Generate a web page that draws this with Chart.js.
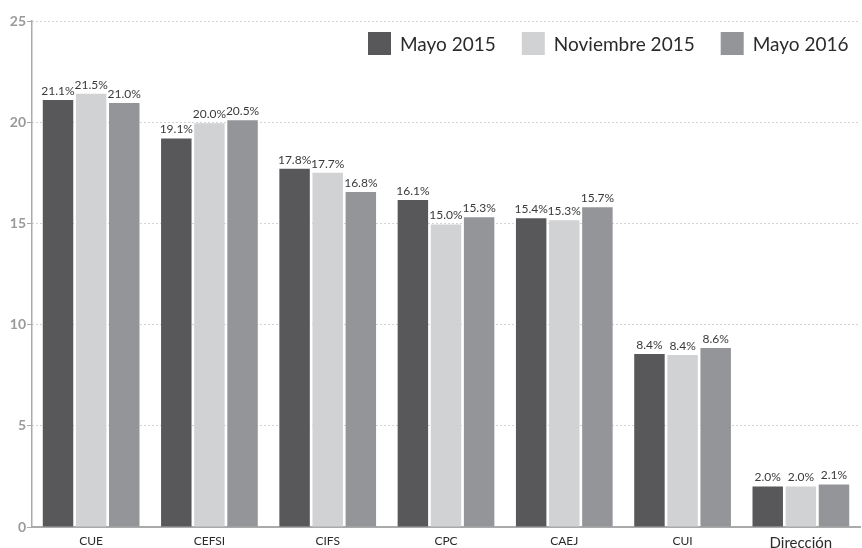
<!DOCTYPE html>
<html>
<head>
<meta charset="utf-8">
<script src="https://cdn.jsdelivr.net/npm/chart.js@4.4.0/dist/chart.umd.min.js"></script>
<style>
  html, body { margin: 0; padding: 0; background: #fff; }
  #wrap { width: 862px; height: 548px; }
</style>
</head>
<body>
<div id="wrap"><canvas id="myChart" width="862" height="548"></canvas></div>
<script>
// DATA ----------------------------------------------------------------------
var categories = ["CUE", "CEFSI", "CIFS", "CPC", "CAEJ", "CUI", "Dirección"];
var seriesNames = ["Mayo 2015", "Noviembre 2015", "Mayo 2016"];

// bar heights as drawn
var mayo2015 = [21.1, 19.2, 17.7, 16.15, 15.25, 8.55, 2.0];
var nov2015  = [21.4, 19.95, 17.5, 14.95, 15.15, 8.5, 2.0];
var mayo2016 = [20.95, 20.1, 16.55, 15.3, 15.8, 8.85, 2.1];

// printed labels
var mayo2015Labels = ["21.1%", "19.1%", "17.8%", "16.1%", "15.4%", "8.4%", "2.0%"];
var nov2015Labels  = ["21.5%", "20.0%", "17.7%", "15.0%", "15.3%", "8.4%", "2.0%"];
var mayo2016Labels = ["21.0%", "20.5%", "16.8%", "15.3%", "15.7%", "8.6%", "2.1%"];

var yTicks = [0, 5, 10, 15, 20, 25];

var colors = ["#58585a", "#d1d2d4", "#939598"];
var FONT = "Lato";

// PLUGINS -------------------------------------------------------------------
var barLabels = {
  id: "barLabels",
  afterDatasetsDraw: function(chart) {
    var ctx = chart.ctx;
    var all = [mayo2015Labels, nov2015Labels, mayo2016Labels];
    ctx.save();
    ctx.font = "12px " + FONT;
    ctx.fillStyle = "#3a3a3a";
    ctx.textAlign = "center";
    ctx.textBaseline = "bottom";
    chart.data.datasets.forEach(function(ds, i) {
      chart.getDatasetMeta(i).data.forEach(function(bar, j) {
        ctx.fillText(all[i][j], bar.x, bar.y - 3);
      });
    });
    ctx.restore();
  }
};

var boxLegend = {
  id: "boxLegend",
  afterDraw: function(chart) {
    var ctx = chart.ctx;
    var x = 368, y = 32, box = 23;
    ctx.save();
    ctx.font = "19px " + FONT;
    ctx.textBaseline = "middle";
    chart.data.datasets.forEach(function(ds) {
      ctx.fillStyle = ds.backgroundColor;
      ctx.fillRect(x, y, box, box);
      x += box + 9;
      ctx.fillStyle = "#2b2b2b";
      ctx.fillText(ds.label, x, y + box / 2 + 1);
      x += ctx.measureText(ds.label).width + 26;
    });
    ctx.restore();
  }
};

// CHART ---------------------------------------------------------------------
var ctx = document.getElementById("myChart").getContext("2d");
var chart = new Chart(ctx, {
  type: "bar",
  data: {
    labels: categories,
    datasets: [
      { label: seriesNames[0], data: mayo2015, backgroundColor: colors[0] },
      { label: seriesNames[1], data: nov2015,  backgroundColor: colors[1] },
      { label: seriesNames[2], data: mayo2016, backgroundColor: colors[2] }
    ]
  },
  options: {
    responsive: false,
    animation: false,
    layout: { padding: { top: 21, right: 2, left: 0, bottom: 0 } },
    datasets: { bar: { categoryPercentage: 0.84, barPercentage: 0.92 } },
    plugins: {
      legend: { display: false },
      tooltip: { enabled: false }
    },
    scales: {
      x: {
        grid: { display: false, drawTicks: false },
        border: { display: true, color: "#aaaaaa", width: 2 },
        ticks: {
          color: "#2b2b2b",
          padding: 7,
          font: function(c) {
            return { family: FONT, size: c.index === 6 ? 15 : 12 };
          }
        },
        afterFit: function(scale) { scale.height = 21; }
      },
      y: {
        min: 0,
        max: 25,
        afterBuildTicks: function(scale) {
          scale.ticks = yTicks.map(function(v) { return { value: v }; });
        },
        grid: { color: "#a8a8a8", lineWidth: 1, tickLength: 5 },
        border: { display: true, color: "#aaaaaa", width: 1.5, dash: [1, 3] },
        ticks: {
          color: "#9a9a9a",
          padding: 1,
          font: { family: FONT, size: 14, weight: "bold" }
        },
        afterFit: function(scale) { scale.width = 32; }
      }
    }
  },
  plugins: [barLabels, boxLegend]
});
</script>
</body>
</html>
